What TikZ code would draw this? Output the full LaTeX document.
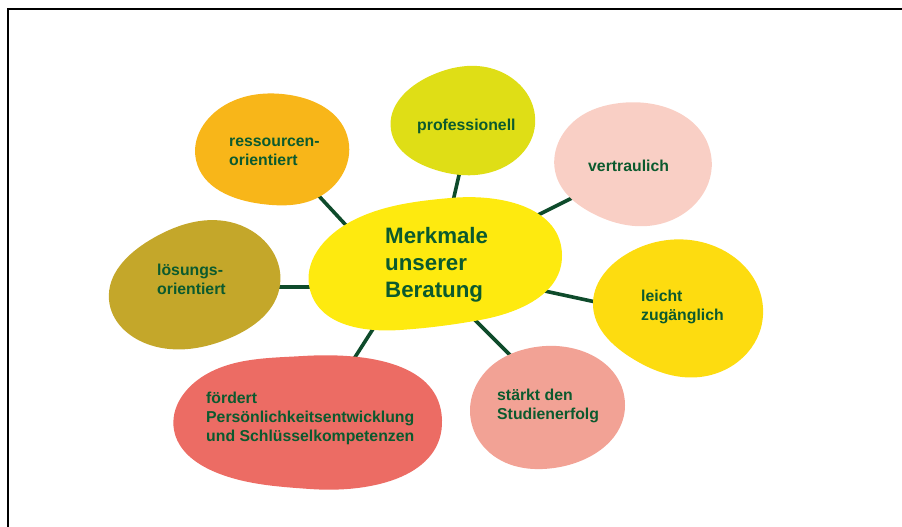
\documentclass[tikz,border=0pt]{standalone}
\usepackage{fontspec}
\usetikzlibrary{hobby}
\setmainfont{Liberation Sans}
\definecolor{txtgreen}{HTML}{0B5A2E}
\definecolor{linkgreen}{HTML}{0E4B2B}
\definecolor{cmain}{HTML}{FEEA0F}
\definecolor{cress}{HTML}{F8B619}
\definecolor{cprof}{HTML}{DFDE16}
\definecolor{cvert}{HTML}{F9CFC5}
\definecolor{cleicht}{HTML}{FDDC10}
\definecolor{cstud}{HTML}{F2A295}
\definecolor{cperson}{HTML}{EC6C64}
\definecolor{closung}{HTML}{C4A72A}
\tikzset{
	blobtext/.style={anchor=base west, align=left, inner sep=0pt, text=txtgreen, font=\bfseries\fontsize{15.8}{19}\selectfont},
	bigtext/.style={blobtext, font=\bfseries\fontsize{22.3}{27}\selectfont},
	link/.style={draw=linkgreen, line width=3.6pt},
	blob/.style={use Hobby shortcut, closed=true}
}
\begin{document}
\begin{tikzpicture}[x=1pt, y=-1pt]
			\useasboundingbox (0,0) rectangle (902,527);
			\draw[line width=2pt] (8,527) -- (8,9) -- (902,9);
			\coordinate (m1) at (356,236); \coordinate (r1) at (305,181);
			\coordinate (m2) at (451,210); \coordinate (p1) at (462,162);
			\coordinate (m3) at (528,220); \coordinate (v1) at (584,192);
			\coordinate (m4) at (540,290); \coordinate (l1) at (605,304);
			\coordinate (m5) at (467,312); \coordinate (s1) at (517,362);
			\coordinate (m6) at (380,318); \coordinate (f1) at (343,376);
			\coordinate (m7) at (320,287); \coordinate (o1) at (268,287);
			\draw[link] (m1) -- (r1);
			\draw[link] (m2) -- (p1);
			\draw[link] (m3) -- (v1);
			\draw[link] (m4) -- (l1);
			\draw[link] (m5) -- (s1);
			\draw[link] (m6) -- (f1);
			\draw[link] (m7) -- (o1);
			\fill[cress, blob] (290,95) .. (347,135) .. (315,199) .. (262,204) .. (196,160) .. (225,105);
			\fill[cprof, blob] (490,68) .. (535,125) .. (500,169) .. (430,168) .. (391,130) .. (430,76);
			\fill[cvert, blob] (620,103) .. (711,155) .. (660,224) .. (590,212) .. (556,175) .. (578,118);
			\fill[cleicht, blob] (690,240) .. (763,315) .. (700,377) .. (630,357) .. (593,305) .. (625,255);
			\fill[cstud, blob] (530,348) .. (625,405) .. (560,467) .. (490,453) .. (470,410) .. (495,363);
			\fill[cperson, blob] (303,356) .. (442,420) .. (310,489) .. (215,472) .. (174,430) .. (205,375);
			\fill[closung, blob] (230,222) .. (280,285) .. (230,338) .. (150,345) .. (109,300) .. (150,240);
			\fill[cmain, blob] (450,198) .. (562,255) .. (480,320) .. (400,330) .. (310,290) .. (350,222);
			\node[bigtext] (merkmale) at (385,297) {Merkmale\\unserer\\Beratung};
			\node[blobtext] (ress) at (229,165) {ressourcen-\\orientiert};
			\node[blobtext] (prof) at (417,130) {professionell};
			\node[blobtext] (vert) at (588,171) {vertraulich};
			\node[blobtext] (leicht) at (641,320) {leicht\\zugänglich};
			\node[blobtext] (stud) at (497,419) {stärkt den\\Studienerfolg};
			\node[blobtext] (person) at (206,441) {fördert\\Persönlichkeitsentwicklung\\und Schlüsselkompetenzen};
			\node[blobtext] (loesung) at (157,294) {lösungs-\\orientiert};
		\end{tikzpicture}
\end{document}
